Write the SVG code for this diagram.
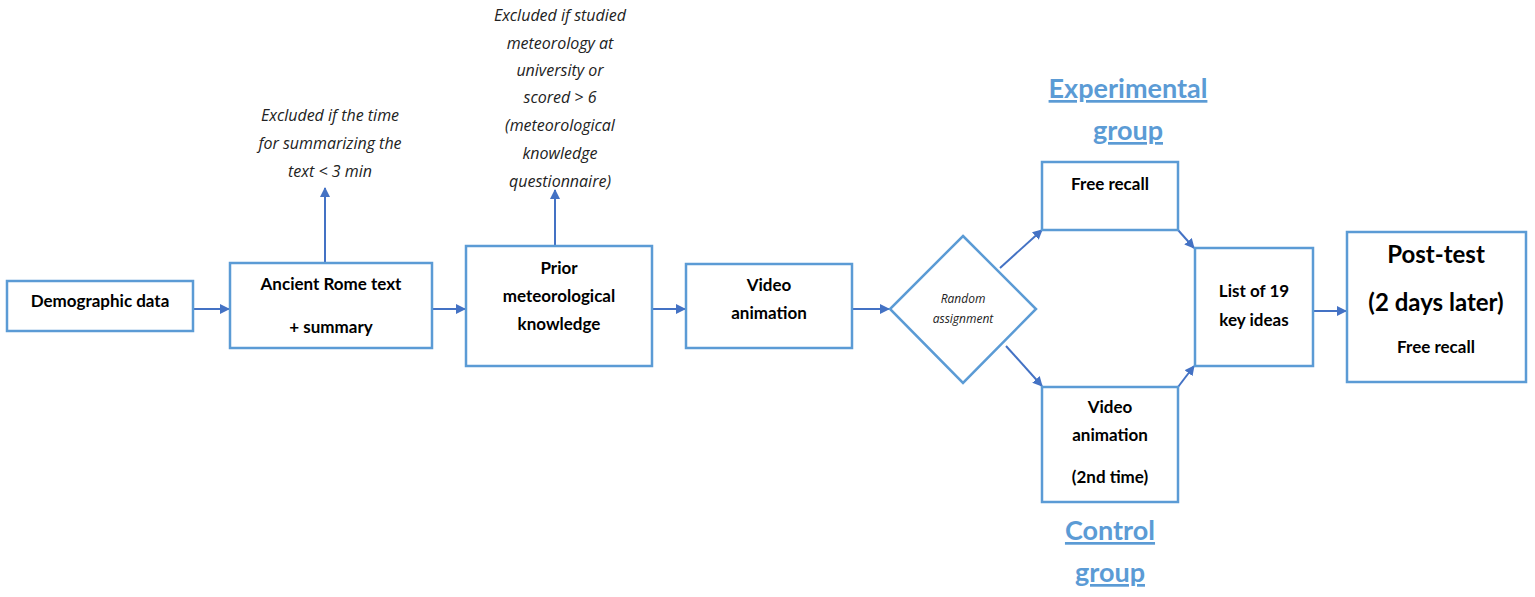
<svg xmlns="http://www.w3.org/2000/svg" width="1535" height="597" viewBox="0 0 1535 597">
<style>
.b{fill:#fff;stroke:#5b9bd5;stroke-width:2.5}
.t{font-family:Lato,"Noto Sans",sans-serif;font-weight:bold;font-size:17px;fill:#000;text-anchor:middle}
.big{font-size:24px}
.i{font-family:"Open Sans",sans-serif;font-style:italic;font-size:16px;fill:#222;text-anchor:middle}
.g{font-family:Lato,"Noto Sans",sans-serif;font-weight:bold;font-size:27px;fill:#5b9bd5;text-anchor:middle;text-decoration:underline}
.c{stroke:#4472c4;stroke-width:2;fill:none;marker-end:url(#a)}
</style>
<defs><marker id="a" markerWidth="10" markerHeight="10" refX="9" refY="5" orient="auto" markerUnits="userSpaceOnUse"><path d="M0,0L10,5L0,10z" fill="#4472c4"/></marker></defs>
<g id="connectors">
<path class="c" d="M193,309H229"/>
<path class="c" d="M432,309H465"/>
<path class="c" d="M652,309H685"/>
<path class="c" d="M852,309H889"/>
<path class="c" d="M325,263V188"/>
<path class="c" d="M555,246V190"/>
<path class="c" d="M1000,268L1042,230"/>
<path class="c" d="M1006,346L1042,386"/>
<path class="c" d="M1178,230L1194,248"/>
<path class="c" d="M1178,387L1194,366"/>
<path class="c" d="M1313,311H1346"/>
</g>
<g id="n1"><rect class="b" x="7" y="281" width="186" height="50"/><text class="t" x="100" y="307">Demographic data</text></g>
<g id="n2"><rect class="b" x="230" y="263" width="202" height="85"/><text class="t" x="331" y="290">Ancient Rome text</text><text class="t" x="331" y="333">+ summary</text></g>
<g id="n3"><rect class="b" x="466" y="246" width="186" height="120"/><text class="t" x="559" y="274">Prior</text><text class="t" x="559" y="302">meteorological</text><text class="t" x="559" y="330">knowledge</text></g>
<g id="n4"><rect class="b" x="686" y="264" width="166" height="84"/><text class="t" x="769" y="291">Video</text><text class="t" x="769" y="319">animation</text></g>
<g id="n5"><polygon class="b" points="963,236 1036,309 963,383 890,309"/><text class="i" font-size="12" x="963" y="303" style="font-size:12px">Random</text><text class="i" x="963" y="323" style="font-size:12px">assignment</text></g>
<g id="n6"><rect class="b" x="1042" y="162" width="136" height="68"/><text class="t" x="1110" y="190">Free recall</text></g>
<g id="n7"><rect class="b" x="1042" y="387" width="136" height="115"/><text class="t" x="1110" y="413">Video</text><text class="t" x="1110" y="441">animation</text><text class="t" x="1110" y="483">(2nd time)</text></g>
<g id="n8"><rect class="b" x="1195" y="248" width="118" height="118"/><text class="t" x="1254" y="297">List of 19</text><text class="t" x="1254" y="326">key ideas</text></g>
<g id="n9"><rect class="b" x="1347" y="232" width="179" height="150"/><text class="t big" x="1436" y="263">Post-test</text><text class="t big" x="1436" y="311">(2 days later)</text><text class="t" x="1436" y="353">Free recall</text></g>
<g id="notes">
<text class="i" x="330" y="121">Excluded if the time</text><text class="i" x="330" y="149">for summarizing the</text><text class="i" x="330" y="177">text &lt; 3 min</text>
<text class="i" x="560" y="21">Excluded if studied</text><text class="i" x="560" y="49">meteorology at</text><text class="i" x="560" y="76">university or</text><text class="i" x="560" y="103">scored &gt; 6</text><text class="i" x="560" y="131">(meteorological</text><text class="i" x="560" y="159">knowledge</text><text class="i" x="560" y="187">questionnaire)</text>
<text class="g" x="1128" y="98">Experimental</text><text class="g" x="1128" y="140">group</text>
<text class="g" x="1110" y="540">Control</text><text class="g" x="1110" y="582">group</text>
</g>
</svg>
